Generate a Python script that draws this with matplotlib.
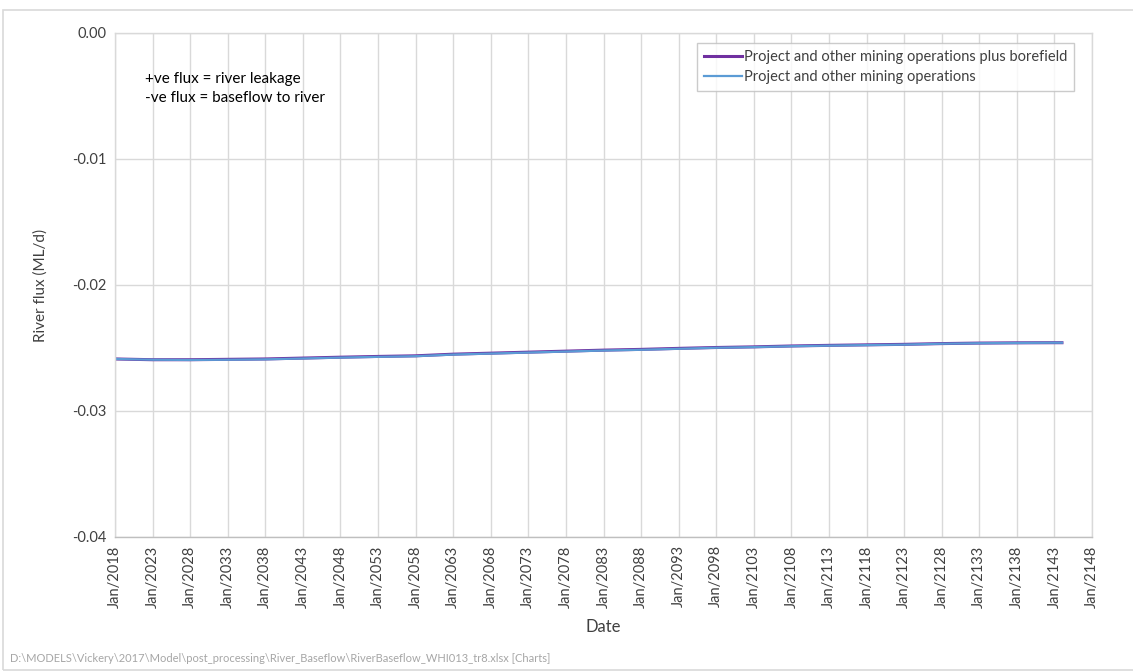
import matplotlib
matplotlib.use("Agg")
import matplotlib.pyplot as plt
from matplotlib.patches import Rectangle

plt.rcParams['font.family'] = ['Lato', 'DejaVu Sans']

# years (Jan of each year) and river flux (ML/d)
years = [2018, 2023, 2028, 2033, 2038, 2043, 2048, 2053, 2058, 2063, 2068, 2073, 2078,
         2083, 2088, 2093, 2098, 2103, 2108, 2113, 2118, 2123, 2128, 2133, 2138, 2143, 2144]
flux_no_bore = [-0.02587, -0.02593, -0.02595, -0.02593, -0.02590, -0.02583, -0.02576,
                -0.02570, -0.02565, -0.02552, -0.02544, -0.02536, -0.02528, -0.02520,
                -0.02514, -0.02506, -0.02498, -0.02493, -0.02486, -0.02481, -0.02477,
                -0.02473, -0.02466, -0.02462, -0.02460, -0.02458, -0.02458]
flux_bore = [-0.02587, -0.02593, -0.02593, -0.02590, -0.02587, -0.02580, -0.02573,
             -0.02567, -0.02562, -0.02549, -0.02541, -0.02533, -0.02525, -0.02517,
             -0.02511, -0.02503, -0.02496, -0.02491, -0.02484, -0.02479, -0.02475,
             -0.02471, -0.02465, -0.02461, -0.02459, -0.02458, -0.02458]

tick_years = list(range(2018, 2149, 5))
tick_labels = [f"Jan/{y}" for y in tick_years]
y_ticks = [0.00, -0.01, -0.02, -0.03, -0.04]

fig = plt.figure(figsize=(11.33, 6.71), dpi=100)
ax = fig.add_axes([115 / 1133, 1 - 537 / 671, (1092 - 115) / 1133, (537 - 33) / 671])

# outer chart border
fig.patches.append(Rectangle((3 / 1133, 0.002), 1.2, 1 - 10 / 671 - 0.002, transform=fig.transFigure,
                             fill=False, edgecolor='#d9d9d9', linewidth=1.2))

ax.plot(years, flux_bore, color='#7030A0', linewidth=2.2,
        label='Project and other mining operations plus borefield')
ax.plot(years, flux_no_bore, color='#5B9BD5', linewidth=1.6,
        label='Project and other mining operations')

ax.set_xlim(2018, 2148)
ax.set_ylim(-0.04, 0.0)
ax.set_xticks(tick_years)
ax.set_xticklabels(tick_labels, rotation=90, fontsize=10.5, color='#404040')
ax.set_yticks(y_ticks)
ax.set_yticklabels([f"{v:.2f}" for v in y_ticks], fontsize=10.5, color='#404040')
ax.tick_params(length=0, pad=6)
ax.grid(True, color='#d9d9d9', linewidth=1.0)
ax.set_axisbelow(True)
for side, sp in ax.spines.items():
    sp.set_color('#d9d9d9')
    sp.set_linewidth(1.0)
ax.spines['bottom'].set_color('#bfbfbf')

ax.set_ylabel('River flux (ML/d)', fontsize=11, color='#404040', labelpad=18)
ax.set_xlabel('Date', fontsize=12, color='#404040', labelpad=8)

ax.text(0.031, 0.922, '+ve flux = river leakage\n-ve flux = baseflow to river',
        transform=ax.transAxes, fontsize=11, va='top', ha='left', linespacing=1.45)

leg = ax.legend(loc='upper right', bbox_to_anchor=(0.9815, 0.98), fontsize=10.5,
                frameon=True, fancybox=False, handlelength=2.6, handletextpad=0.15,
                borderpad=0.45, labelspacing=0.45, borderaxespad=0)
leg.get_frame().set_edgecolor('#bfbfbf')
leg.get_frame().set_linewidth(1.0)
for t in leg.get_texts():
    t.set_color('#404040')

fig.text(10 / 1133, 1 - 659 / 671,
         'D:\\MODELS\\Vickery\\2017\\Model\\post_processing\\River_Baseflow\\RiverBaseflow_WHI013_tr8.xlsx [Charts]',
         fontsize=8, color='#a6a6a6', va='center', ha='left')

fig.savefig('out.png', dpi=100)
